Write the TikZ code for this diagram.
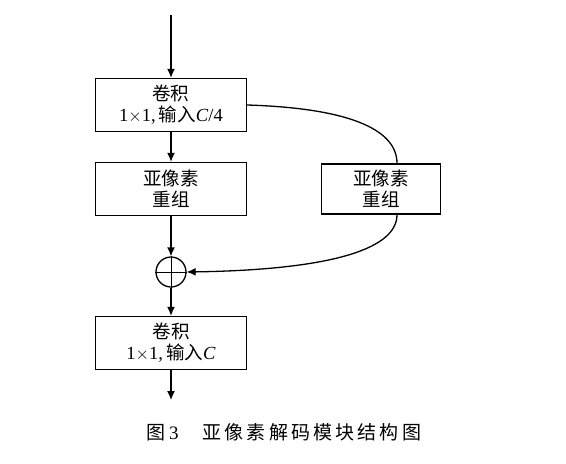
\documentclass[tikz,border=0pt]{standalone}
\usepackage{fontspec}
\setmainfont{Liberation Serif}
\newfontfamily\cjk{Noto Sans CJK SC}
\usepackage{tikz}
\usetikzlibrary{calc}
\usetikzlibrary{arrows.meta}
\usetikzlibrary{positioning}

\begin{document}
\begin{tikzpicture}[x=1pt, y=-1pt, font=\fontsize{18.5pt}{21pt}\selectfont, line width=1.3pt,
  blk/.style={rectangle, draw=black, minimum width=151pt, minimum height=53pt, align=center, inner sep=0pt},
  arr/.style={-{Latex[length=9pt, width=8pt]}}]
\useasboundingbox (0,0) rectangle (566,464);
\coordinate (In) at (171, 15);
\node [blk] (Conv1) at (171, 105) {{\cjk 卷积}\\1$\times$1,\,{\cjk 输入}\textit{C}/4};
\node [blk] (Shuf1) at (171, 189) {\cjk 亚像素\\\cjk 重组};
\node [blk, minimum width=119pt, minimum height=50pt] (Shuf2) at (381, 189) {\cjk 亚像素\\\cjk 重组};
\node [circle, draw=black, minimum size=30pt, inner sep=0pt] (Add) at (171, 272) {};
\node [blk] (Conv2) at (171, 343) {{\cjk 卷积}\\1$\times$1,\,{\cjk 输入}\textit{C}};
\coordinate (Out) at (171, 400);
\draw [line width=0.8pt] (Add.north) -- (Add.south) (Add.west) -- (Add.east);
\draw [arr] (In) to (Conv1);
\draw [arr] (Conv1) to (Shuf1);
\draw [arr] (Shuf1) to (Add);
\draw [arr] (Add) to (Conv2);
\draw [arr] (Conv2) to (Out);
\draw (Conv1.east) .. controls (345, 108) and (397, 128) .. ([xshift=16pt]Shuf2.north);
\draw [arr] ([xshift=16pt]Shuf2.south) .. controls (397, 252) and (320, 270) .. (Add.east);
\node [font=\fontsize{19pt}{22pt}\selectfont] (Cap) at (284, 432) {{\cjk 图}\,3\hspace{24pt}{\cjk 亚\,像\,素\,解\,码\,模\,块\,结\,构\,图}};
\end{tikzpicture}
\end{document}
